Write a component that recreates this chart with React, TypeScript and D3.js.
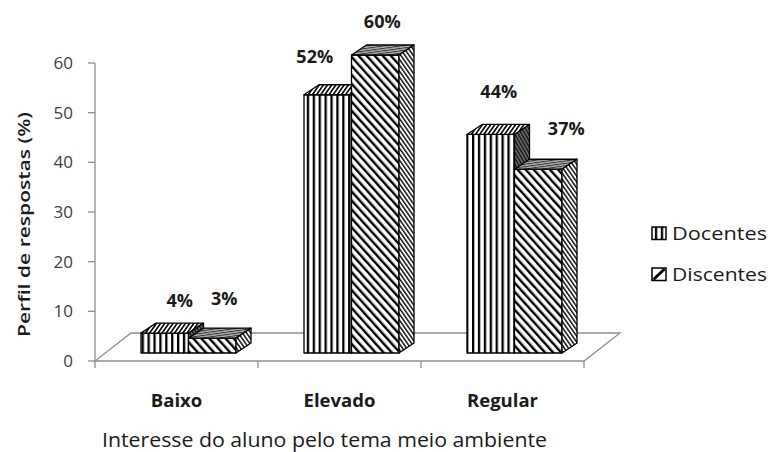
import React from "react";
import * as d3 from "d3";

// Data
const categories = ["Baixo", "Elevado", "Regular"];
const seriesNames = ["Docentes", "Discentes"];
const docentes = [4, 52, 44];
const discentes = [3, 60, 37];
const yTicks = [0, 10, 20, 30, 40, 50, 60];
const xTitle = "Interesse do aluno pelo tema meio ambiente";
const yTitle = "Perfil de respostas  (%)";

const W = 772;
const H = 452;
const FONT = "'Open Sans', 'Liberation Sans', sans-serif";

// plot frame
const left = 95;
const right = 584;
const base = 361;
const top = 63;
const floorDx = 36;
const floorDy = -28;
const frontDx = 12;
const frontDy = -8;
const depthDx = 15;
const depthDy = -10;
const groupWidth = 95;

// per-series face fills
const faceFills = [
  { front: "url(#docFront)", top: "url(#docTop)", side: "url(#docSide)" },
  { front: "url(#disFront)", top: "url(#disTop)", side: "url(#disSide)" },
];

// label nudges relative to the front-top centre of each bar [series][category]
const labelNudge = [
  [[15, -26], [-13, -32], [8, -36]],
  [[12, -33], [7, -27], [28, -34]],
];

export default function App() {
  const x = d3.scaleBand<string>().domain(categories).range([left, right]);
  const xs = d3.scaleBand<string>().domain(seriesNames).range([0, groupWidth]);
  const y = d3.scaleLinear().domain([0, 60]).range([base, top]);
  const groupOffset = (x.bandwidth() - groupWidth) / 2 + frontDx;
  const seriesValues = [docentes, discentes];
  const axisColor = "#8e8e8e";

  const floor = [
    [left, base],
    [right, base],
    [right + floorDx, base + floorDy],
    [left + floorDx, base + floorDy],
  ];

  const bars: React.ReactNode[] = [];
  const labels: React.ReactNode[] = [];
  categories.forEach((cat, ci) => {
    seriesNames.forEach((s, si) => {
      const v = seriesValues[si][ci];
      const bx = (x(cat) as number) + groupOffset + (xs(s) as number);
      const w = xs.bandwidth();
      const t = y(v) + frontDy;
      const b = y(0) + frontDy;
      const f = faceFills[si];
      const pts = (arr: number[][]) => arr.map((p) => p.join(",")).join(" ");
      bars.push(
        <g key={`${cat}-${s}`} stroke="#000" strokeWidth={1.3} strokeLinejoin="round">
          <rect x={bx} y={t} width={w} height={b - t} fill={f.front} />
          <polygon
            points={pts([
              [bx, t],
              [bx + w, t],
              [bx + w + depthDx, t + depthDy],
              [bx + depthDx, t + depthDy],
            ])}
            fill={f.top}
          />
          <polygon
            points={pts([
              [bx + w, t],
              [bx + w + depthDx, t + depthDy],
              [bx + w + depthDx, b + depthDy],
              [bx + w, b],
            ])}
            fill={f.side}
          />
        </g>
      );
      const [nx, ny] = labelNudge[si][ci];
      labels.push(
        <text
          key={`l-${cat}-${s}`}
          x={bx + w / 2 + nx}
          y={t + ny}
          textAnchor="middle"
          fontFamily={FONT}
          fontWeight={700}
          fontSize={18}
          fill="#1a1a1a"
        >
          {`${v}%`}
        </text>
      );
    });
  });

  return (
    <svg
      width={W}
      height={H}
      viewBox={`0 0 ${W} ${H}`}
      style={{ position: "absolute", left: 0, top: 0, background: "#fff" }}
    >
      <defs>
        <pattern id="docFront" patternUnits="userSpaceOnUse" width={5.9} height={10}>
          <rect width={5.9} height={10} fill="#fff" />
          <rect x={0} width={2.3} height={10} fill="#000" />
        </pattern>
        <pattern id="docTop" patternUnits="userSpaceOnUse" width={3.4} height={10} patternTransform="rotate(35)">
          <rect width={3.4} height={10} fill="#fff" />
          <rect width={1.6} height={10} fill="#000" />
        </pattern>
        <pattern id="docSide" patternUnits="userSpaceOnUse" width={3} height={10} patternTransform="rotate(-30)">
          <rect width={3} height={10} fill="#777" />
          <rect width={1.5} height={10} fill="#111" />
        </pattern>
        <pattern id="disFront" patternUnits="userSpaceOnUse" width={6} height={10} patternTransform="rotate(-42)">
          <rect width={6} height={10} fill="#fff" />
          <rect width={2.4} height={10} fill="#000" />
        </pattern>
        <pattern id="disTop" patternUnits="userSpaceOnUse" width={10} height={2.4} patternTransform="rotate(-8)">
          <rect width={10} height={2.4} fill="#b0b0b0" />
          <rect width={10} height={1} fill="#333" />
        </pattern>
        <pattern id="disSide" patternUnits="userSpaceOnUse" width={3.4} height={10} patternTransform="rotate(-35)">
          <rect width={3.4} height={10} fill="#fff" />
          <rect width={1.5} height={10} fill="#111" />
        </pattern>
      </defs>

      {/* floor */}
      <polygon
        points={floor.map((p) => p.join(",")).join(" ")}
        fill="#fff"
        stroke={axisColor}
        strokeWidth={1.3}
      />

      {/* value axis */}
      <line x1={left} x2={left} y1={y(60)} y2={y(0)} stroke={axisColor} strokeWidth={1.3} />
      {yTicks.map((t) => (
        <g key={`yt-${t}`}>
          <line x1={left - 7} x2={left} y1={y(t)} y2={y(t)} stroke={axisColor} strokeWidth={1.3} />
          <text
            x={73}
            y={y(t) + 6}
            textAnchor="end"
            fontFamily={FONT}
            fontSize={17}
            fill="#404040"
          >
            {t}
          </text>
        </g>
      ))}

      {/* category ticks */}
      {[left, ...categories.map((c) => (x(c) as number) + x.bandwidth())].map((tx, i) => (
        <line key={`xt-${i}`} x1={tx} x2={tx} y1={base} y2={base + 7} stroke={axisColor} strokeWidth={1.3} />
      ))}

      {bars}
      {labels}

      {/* category labels */}
      {categories.map((c) => (
        <text
          key={`c-${c}`}
          x={(x(c) as number) + x.bandwidth() / 2}
          y={407}
          textAnchor="middle"
          fontFamily={FONT}
          fontWeight={700}
          fontSize={18.5}
          fill="#1a1a1a"
        >
          {c}
        </text>
      ))}

      {/* axis titles */}
      <text
        x={102}
        y={447}
        fontFamily={FONT}
        fontSize={20}
        fill="#1a1a1a"
        textLength={445}
        lengthAdjust="spacingAndGlyphs"
      >
        {xTitle}
      </text>
      <text
        transform="translate(30,337) rotate(-90)"
        x={0}
        y={0}
        fontFamily={FONT}
        fontWeight={600}
        fontSize={17}
        fill="#1a1a1a"
        textLength={225}
        lengthAdjust="spacingAndGlyphs"
      >
        {yTitle}
      </text>

      {/* legend */}
      {seriesNames.map((s, i) => {
        const ly = 227 + i * 41;
        return (
          <g key={`lg-${s}`}>
            <rect
              x={652}
              y={ly}
              width={14}
              height={12.5}
              fill={i === 0 ? "url(#docFront)" : "#fff"}
              stroke="#000"
              strokeWidth={1.5}
            />
            {i === 1 && (
              <line x1={653.5} y1={ly + 11.5} x2={664.5} y2={ly + 1} stroke="#000" strokeWidth={3} />
            )}
            <text
              x={672}
              y={ly + 13}
              fontFamily={FONT}
              fontSize={18.5}
              fill="#1a1a1a"
              textLength={95}
              lengthAdjust="spacingAndGlyphs"
            >
              {s}
            </text>
          </g>
        );
      })}
    </svg>
  );
}
